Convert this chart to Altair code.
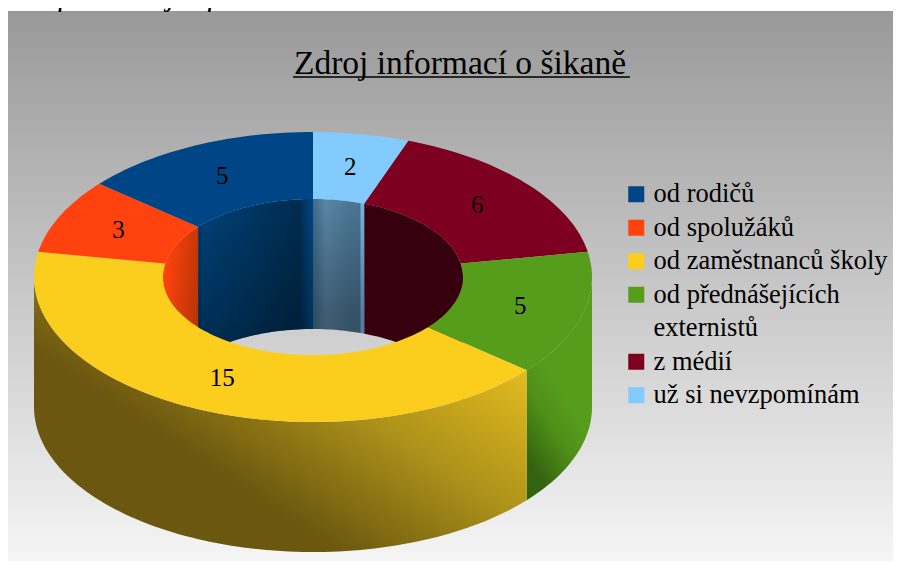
import math
import altair as alt
import pandas as pd

# ---- data (slices run clockwise from 12 o'clock)
categories = ["už si nevzpomínám", "z médií", "od přednášejících",
              "od zaměstnanců školy", "od spolužáků", "od rodičů"]
values = [2, 6, 5, 15, 3, 5]
# "externistů" is the second line of the fourth legend entry: an entry with no swatch
legend_order = ["od rodičů", "od spolužáků", "od zaměstnanců školy",
                "od přednášejících", "externistů", "z médií", "už si nevzpomínám"]
legend_colors = ["#004586", "#ff420e", "#fbce1d", "#579d1c", "transparent", "#7e0021", "#83caff"]
title_text = "Zdroj informací o šikaně"
caption_text = "Graf 1: Zdroj informací o šikaně"

# ---- projection of the ring
CX, CY = 313.0, 277.0
RX, RY = 279.0, 145.0
IX, IY = 150.0, 78.0
DEPTH = 130.0
FONT = "Liberation Serif"
W, H = 885, 553

total = sum(values)
bounds = [0.0]
for v in values:
    bounds.append(bounds[-1] + v * 360.0 / total)


def pt(a, rx, ry, dy=0.0):
    t = math.radians(a)
    return CX + rx * math.sin(t), CY - ry * math.cos(t) + dy


def sweep(a0, a1, rx, ry, dy=0.0):
    n = max(2, int(abs(a1 - a0) / 1.5) + 1)
    return [pt(a0 + (a1 - a0) * i / n, rx, ry, dy) for i in range(n + 1)]


def frame(points, **extra):
    pts = points + [points[0]]
    return pd.DataFrame([dict(x=p[0], y=p[1], i=i, **extra) for i, p in enumerate(pts)])


xs = alt.Scale(domain=[8, 8 + W], range=[0, W], nice=False, zero=False)
ys = alt.Scale(domain=[8, 8 + H], range=[0, H], nice=False, zero=False)
X = alt.X("x:Q", scale=xs, axis=None)
Y = alt.Y("y:Q", scale=ys, axis=None)


def poly(points, fill):
    return alt.Chart(frame(points)).mark_line(fill=fill, strokeWidth=0, stroke=None, clip=False).encode(
        x=X, y=Y, order="i:Q")


def grad(stops, x1=0, y1=0, x2=1, y2=0):
    return {"gradient": "linear", "x1": x1, "y1": y1, "x2": x2, "y2": y2,
            "stops": [{"offset": o, "color": c} for o, c in stops]}


def wall(a0, a1, rx, ry):
    return sweep(a0, a1, rx, ry) + sweep(a1, a0, rx, ry, DEPTH)


layers = []

# background
bg = pd.DataFrame({"x": [8], "x2": [8 + W], "y": [11], "y2": [8 + H]})
layers.append(alt.Chart(bg).mark_rect(
    fill=grad([(0, "#999999"), (1, "#f5f5f5")], 0, 0, 0, 1)).encode(
    x=X, x2="x2:Q", y=Y, y2="y2:Q"))

shade = grad([(0, "rgba(0,0,0,0)"), (0.85, "rgba(0,0,0,0.3)"), (1, "rgba(0,0,0,0.3)")], 0, 0, 0, 1)

# inner walls seen through the hole
b = bounds
layers.append(poly(wall(270, b[5], IX, IY),
                   grad([(0.1, "#ff420e"), (1, "#b23404")], 0, 0.1, 1, 0.62)))
layers.append(poly(wall(b[5], b[6], IX, IY),
                   grad([(0, "#003766"), (0.04, "#00427a"), (0.55, "#003560"), (0.88, "#002c50"),
                         (0.96, "#003f74"), (1, "#004586")])))
layers.append(poly(wall(b[5], b[6], IX, IY), shade))
layers.append(poly(wall(b[0], b[1], IX, IY),
                   grad([(0, "#3f6a88"), (0.25, "#5a86a6"), (0.7, "#4c7795"), (0.91, "#4a7593"),
                         (0.94, "#79b2e4"), (1, "#79b2e4")])))
layers.append(poly(wall(b[0], b[1], IX, IY), shade))
layers.append(poly(wall(b[1], 90, IX, IY), "#36000e"))

# outer walls
layers.append(poly(wall(90, b[3], RX, RY),
                   grad([(0, "#579d1c"), (0.4, "#4f8f1a"), (1, "#33630f")], 0.5, 0.5, 0.3, 0.95)))
layers.append(poly(wall(b[3], 270, RX, RY),
                   grad([(0, "#e8bf20"), (0.5, "#ab901a"), (0.95, "#6b570f"), (1, "#6b570f")],
                        1, 0.3, 0.4, 0.8)))

# top faces, the only layer that carries the legend
rows = []
for k, cat in enumerate(categories):
    a0, a1 = bounds[k], bounds[k + 1]
    pts = sweep(a0, a1, RX, RY) + sweep(a1, a0, IX, IY)
    pts = pts + [pts[0]]
    rows += [dict(x=p[0], y=p[1], i=i, cat=cat) for i, p in enumerate(pts)]
legend = alt.Legend(
    orient="none", legendX=615, legendY=173, title=None, symbolType="square", symbolSize=256,
    symbolStrokeWidth=0, labelFont=FONT, labelFontSize=26.5, labelColor="#000000", labelOffset=4,
    rowPadding=6.5, labelLimit=300, padding=0,
)
layers.append(alt.Chart(pd.DataFrame(rows)).mark_line(strokeWidth=0, stroke=None).encode(
    x=X, y=Y, order="i:Q", detail="cat:N",
    fill=alt.Fill("cat:N", scale=alt.Scale(domain=legend_order, range=legend_colors), legend=legend)))

# value labels at each slice's middle
lab = []
for k, v in enumerate(values):
    x, y = pt((bounds[k] + bounds[k + 1]) / 2, (RX + IX) / 2, (RY + IY) / 2)
    lab.append(dict(x=x, y=y, v=str(v)))
layers.append(alt.Chart(pd.DataFrame(lab)).mark_text(
    font=FONT, fontSize=25, color="#000000", align="center", baseline="middle").encode(
    x=X, y=Y, text="v:N"))

# title, its underline and the clipped caption above the chart
layers.append(alt.Chart(pd.DataFrame({"x": [460], "y": [74], "t": [title_text]})).mark_text(
    font=FONT, fontSize=33.5, color="#000000", align="center", baseline="alphabetic").encode(
    x=X, y=Y, text="t:N"))
layers.append(alt.Chart(pd.DataFrame({"x": [293], "x2": [630], "y": [77]})).mark_rule(
    color="#000000", strokeWidth=1.5).encode(x=X, x2="x2:Q", y=Y))
layers.append(alt.Chart(pd.DataFrame({"x": [8], "y": [5], "t": [caption_text]})).mark_text(
    font=FONT, fontSize=31, fontStyle="italic", color="#000000", align="left", baseline="alphabetic").encode(
    x=X, y=Y, text="t:N"))

chart = alt.layer(*layers).properties(
    width=W, height=H, padding=0, autosize=alt.AutoSizeParams(type="none"),
    background="#ffffff",
).configure_view(strokeWidth=0)

chart.save("out.html", embed_options={"renderer": "svg", "actions": False})
